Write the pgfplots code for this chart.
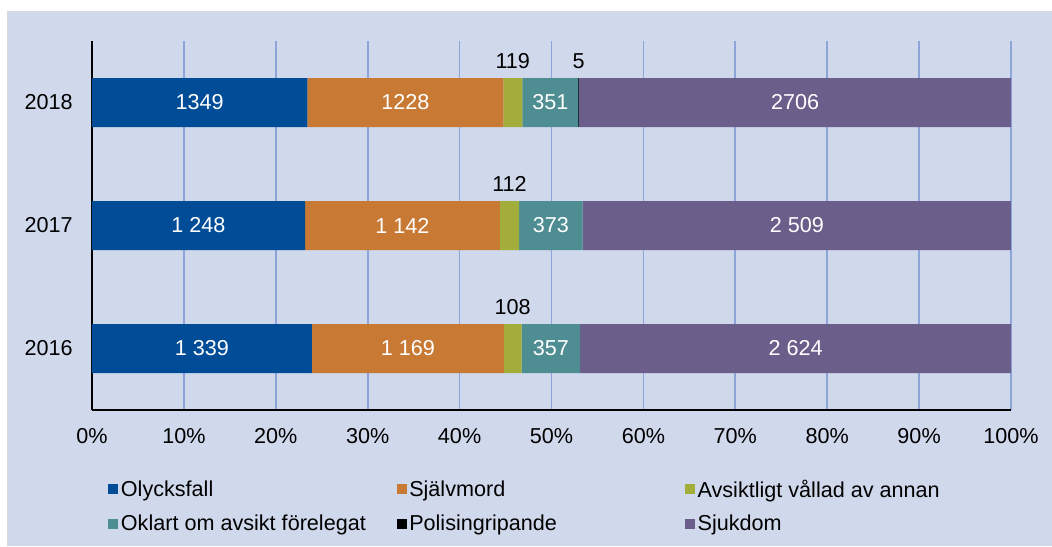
\documentclass[border=0pt]{standalone}
\usepackage{fontspec}
\setmainfont{Liberation Sans}
\usepackage{pgfplots}
\usepackage{pgfplotstable}
\pgfplotsset{compat=1.18}
\definecolor{cOly}{HTML}{004C97}
\definecolor{cSjalv}{HTML}{C87A34}
\definecolor{cAvs}{HTML}{A2AD3A}
\definecolor{cOkl}{HTML}{4E8D92}
\definecolor{cPol}{HTML}{000000}
\definecolor{cSjuk}{HTML}{6C5E8A}
\definecolor{cBg}{HTML}{D0D8EC}
\definecolor{cGrid}{HTML}{8DA4D8}
\newcommand{\lbl}{\fontsize{16.2}{19}\selectfont}
\newcommand{\lentry}[1]{\makebox[204.75pt][l]{#1}}

% counts per year; tot = sum of the six causes
\pgfplotstableread[col sep=comma]{
yr,tot,olyck,sjalv,avs,okl,pol,sjuk,lolyck,lsjalv,lavs,lokl,lpol,lsjuk
0,5597,1339,1169,108,357,0,2624,1 339,1 169,108,357,\relax,2 624
1,5384,1248,1142,112,373,0,2509,1 248,1 142,112,373,\relax,2 509
2,5758,1349,1228,119,351,5,2706,1349,1228,119,351,5,2706
}\deathdata

\begin{document}
\begin{tikzpicture}
\fill[white] (-69pt,-102pt) rectangle (720pt,307.5pt);
\fill[cBg] (-63pt,-102pt) rectangle (720pt,298.5pt);
\draw[black!15, line width=0.75pt] (-63pt,-102pt) -- (-63pt,298.5pt) -- (720pt,298.5pt);

\begin{axis}[
  scale only axis, width=689.25pt, height=276.75pt,
  xbar stacked, bar width=36.75pt,
  xmin=0, xmax=100.001, ymin=-0.5, ymax=2.5,
  clip=false,
  xtick={0,10,...,100},
  xticklabels={0\%,10\%,20\%,30\%,40\%,50\%,60\%,70\%,80\%,90\%,100\%},
  ytick={0,1,2}, yticklabels={2016,2017,2018},
  axis lines*=left,
  axis line style={black, line width=1.4pt, -},
  major tick length=0pt,
  xmajorgrids, grid style={cGrid, line width=1.3pt},
  x tick label style={font=\lbl, yshift=-10pt},
  y tick label style={font=\lbl, xshift=-11pt},
  point meta=explicit symbolic,
  nodes near coords,
  every node near coord/.append style={font=\lbl, text=white},
  legend image code/.code={\fill[#1] (0pt,-3.75pt) rectangle (7.5pt,3.75pt);},
  legend columns=3,
  legend cell align=left,
  legend style={at={(0,0)}, anchor=north west, xshift=12pt, yshift=-50pt,
    draw=none, fill=none, inner sep=0pt, font=\lbl, row sep=8pt,
    /tikz/every odd column/.style={column sep=0pt},
    /tikz/every even column/.style={column sep=0pt}},
]
\addplot[fill=cOly, draw=none] table[x expr=100*\thisrow{olyck}/\thisrow{tot}, y=yr, meta=lolyck] {\deathdata};
\addlegendentry{\lentry{Olycksfall}}
\addplot[fill=cSjalv, draw=none] table[x expr=100*\thisrow{sjalv}/\thisrow{tot}, y=yr, meta=lsjalv] {\deathdata};
\addlegendentry{\lentry{Självmord}}
\addplot[fill=cAvs, draw=none, every node near coord/.append style={text=black, yshift=31pt}] table[x expr=100*\thisrow{avs}/\thisrow{tot}, y=yr, meta=lavs] {\deathdata};
\addlegendentry{\lentry{Avsiktligt vållad av annan}}
\addplot[fill=cOkl, draw=none] table[x expr=100*\thisrow{okl}/\thisrow{tot}, y=yr, meta=lokl] {\deathdata};
\addlegendentry{\lentry{Oklart om avsikt förelegat}}
\addplot[fill=cPol, draw=none, every node near coord/.append style={text=black, yshift=31pt}] table[x expr=100*\thisrow{pol}/\thisrow{tot}, y=yr, meta=lpol] {\deathdata};
\addlegendentry{\lentry{Polisingripande}}
\addplot[fill=cSjuk, draw=none] table[x expr=100*\thisrow{sjuk}/\thisrow{tot}, y=yr, meta=lsjuk] {\deathdata};
\addlegendentry{\lentry{Sjukdom}}
\end{axis}
\pgfresetboundingbox
\path (-69pt,-102pt) rectangle (720pt,307.5pt);
\end{tikzpicture}
\end{document}
